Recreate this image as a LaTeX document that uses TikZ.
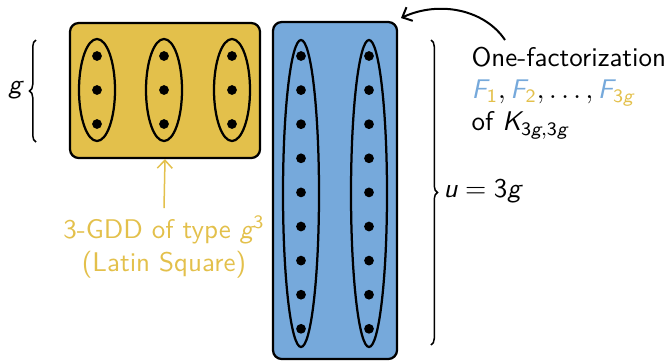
\documentclass[tikz,border=0pt]{standalone}
\usepackage{amsmath}
\usetikzlibrary{shapes.geometric,decorations.pathreplacing,arrows.meta}
\definecolor{gold}{HTML}{E3C04B}
\definecolor{sky}{HTML}{76A9DB}
\newcommand\sv[1]{\text{\itshape #1}}
\newcommand\su[1]{\text{#1}}
\begin{document}
\begin{tikzpicture}[x=0.4pt,y=-0.4pt,
  font=\sffamily\fontsize{10.8}{12.9}\selectfont,
  box/.style={draw=black, line width=0.9pt, rounded corners=3.5pt, inner sep=0pt},
  grp/.style={draw=black, line width=0.9pt, ellipse, inner sep=0pt},
  dot/.style={circle, fill=black, inner sep=0pt, minimum size=3.9pt},
  brc/.style={decorate, decoration={brace, amplitude=2.6pt}, line width=0.6pt},
  arr/.style={-{Straight Barb[length=3.2pt,width=6pt]}}]
\useasboundingbox (0,0) rectangle (665,361);
% yellow box
\node[box, fill=gold, minimum width=76pt, minimum height=54pt] (Y) at (165,90.5) {};
\foreach \x/\n in {97/a,164/b,232/c}{
  \node[grp, minimum width=14.4pt, minimum height=40.8pt] (ye\n) at (\x,90) {};
  \foreach \y/\m in {56/1,90/2,124/3}{\node[dot] (yd\n\m) at (\x,\y) {};}
}
% blue box
\node[box, fill=sky, minimum width=49.6pt, minimum height=134.8pt] (B) at (335,190.5) {};
\foreach \x/\n in {301/a,369/b}{
  \node[grp, minimum width=14.4pt, minimum height=122.8pt] (be\n) at (\x,193.5) {};
  \foreach \k in {0,...,8}{\node[dot] (bd\n\k) at (\x,{56+34.1*\k}) {};}
}
% braces
\coordinate (lgb) at (36,142);
\coordinate (lgt) at (36,40);
\draw[brc] (lgb) -- (lgt);
\node (gl) at (15,90) {$\sv{g}$};
\coordinate (rbt) at (431,40);
\coordinate (rbb) at (431,345);
\draw[brc] (rbt) -- (rbb);
\node[anchor=west, inner sep=0pt] (ul) at (443,191) {$\sv{u} = \su{3}\sv{g}$};
% one-factorization text
\node[anchor=west, align=left, inner sep=0pt] (fact) at (471,93)
  {One-factorization\\
   $\textcolor{sky}{\sv{F}}_{\textcolor{gold}{\su{1}}}, \textcolor{sky}{\sv{F}}_{\textcolor{gold}{\su{2}}}, \ldots, \textcolor{sky}{\sv{F}}_{\textcolor{gold}{\su{3}\sv{g}}}$\\
   of $\sv{K}_{\su{3}\sv{g},\su{3}\sv{g}}$};
\coordinate (ca) at (505,40);
\coordinate (cb) at (401,18);
\draw[arr, line width=0.8pt] (ca) .. controls (485,10) and (440,0) .. (cb);
% GDD label
\node[text=gold, align=center, inner sep=0pt] (gdd) at (164,247)
  {3-GDD of type $\sv{g}^{\su{3}}$\\(Latin Square)};
\draw[arr, draw=gold, line width=0.6pt] ([yshift=3pt]gdd.north) -- (Y.south);
\end{tikzpicture}
\end{document}
